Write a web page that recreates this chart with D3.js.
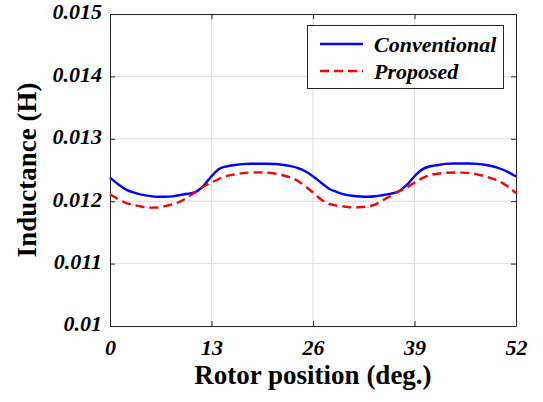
<!DOCTYPE html>
<html><head><meta charset="utf-8"><script src="https://cdn.jsdelivr.net/npm/d3@7"></script></head>
<body style="margin:0">
<svg id="chart" width="543" height="402" font-family='"Liberation Serif", Tinos, Times, "Times New Roman", FreeSerif, serif'></svg>
<script>
// Rotor position samples (deg.)
const position = d3.range(0, 53, 1);

// Inductance of the conventional machine (H)
const conventional = [
  0.012378, 0.012275, 0.012190, 0.012140, 0.012105, 0.012085, 0.012072, 0.012072, 0.012078, 0.012100,
  0.012120, 0.012150, 0.012250, 0.012400, 0.012520, 0.012560, 0.012580, 0.012595, 0.012600, 0.012600,
  0.012600, 0.012595, 0.012585, 0.012565, 0.012535, 0.012480, 0.012400, 0.012300, 0.012205, 0.012150,
  0.012110, 0.012088, 0.012075, 0.012072, 0.012080, 0.012100, 0.012122, 0.012160, 0.012260, 0.012400,
  0.012510, 0.012560, 0.012580, 0.012598, 0.012605, 0.012605, 0.012605, 0.012598, 0.012585, 0.012560,
  0.012520, 0.012465, 0.012395
];

// Inductance of the proposed machine (H)
const proposed = [
  0.012110, 0.012035, 0.011975, 0.011940, 0.011915, 0.011897, 0.011900, 0.011920, 0.011950, 0.011995,
  0.012070, 0.012150, 0.012235, 0.012300, 0.012360, 0.012405, 0.012430, 0.012450, 0.012460, 0.012462,
  0.012458, 0.012445, 0.012420, 0.012385, 0.012330, 0.012240, 0.012140, 0.012030, 0.011960, 0.011930,
  0.011915, 0.011900, 0.011905, 0.011915, 0.011950, 0.012020, 0.012090, 0.012160, 0.012220, 0.012300,
  0.012370, 0.012420, 0.012440, 0.012455, 0.012460, 0.012458, 0.012452, 0.012430, 0.012400, 0.012360,
  0.012310, 0.012230, 0.012130
];

const xTicks = [0, 13, 26, 39, 52];
const yTicks = [0.010, 0.011, 0.012, 0.013, 0.014, 0.015];
const yTickLabels = ["0.01", "0.011", "0.012", "0.013", "0.014", "0.015"];
const seriesNames = ["Conventional", "Proposed"];

const svg = d3.select("#chart");
const margin = { left: 110, right: 27, top: 14, bottom: 76 };
const W = 543, H = 402;
const x = d3.scaleLinear().domain([0, 52]).range([margin.left, W - margin.right]);
const y = d3.scaleLinear().domain([0.010, 0.015]).range([H - margin.bottom, margin.top]);

const FONT = '"Liberation Serif", Tinos, Times, "Times New Roman", FreeSerif, serif';
const frameColor = "#262626";

function serifText(sel, size, italic) {
  sel.attr("font-family", FONT)
    .style("font-family", FONT)
    .style("font-size", size + "px")
    .style("font-weight", "bold")
    .style("font-style", italic ? "italic" : "normal")
    .attr("fill", "#000");
}

// Grid
const grid = svg.append("g");
grid.selectAll(".gx").data(xTicks.slice(1, -1)).join("line")
  .attr("x1", d => x(d)).attr("x2", d => x(d))
  .attr("y1", y.range()[0]).attr("y2", y.range()[1])
  .attr("stroke", "#dcdcdc").attr("stroke-width", 1);
grid.selectAll(".gy").data(yTicks.slice(1, -1)).join("line")
  .attr("x1", x.range()[0]).attr("x2", x.range()[1])
  .attr("y1", d => y(d)).attr("y2", d => y(d))
  .attr("stroke", "#dcdcdc").attr("stroke-width", 1);

// Axes (inward ticks on all four sides)
const axBottom = svg.append("g").attr("transform", `translate(0,${y.range()[0]})`)
  .call(d3.axisBottom(x).tickValues(xTicks).tickSizeInner(-5).tickSizeOuter(0).tickPadding(13));
const axTop = svg.append("g").attr("transform", `translate(0,${y.range()[1]})`)
  .call(d3.axisTop(x).tickValues(xTicks).tickSizeInner(-5).tickSizeOuter(0).tickFormat(""));
const axLeft = svg.append("g").attr("transform", `translate(${x.range()[0]},0)`)
  .call(d3.axisLeft(y).tickValues(yTicks).tickSizeInner(-5).tickSizeOuter(0).tickPadding(8)
    .tickFormat((d, i) => yTickLabels[i]));
const axRight = svg.append("g").attr("transform", `translate(${x.range()[1]},0)`)
  .call(d3.axisRight(y).tickValues(yTicks).tickSizeInner(-5).tickSizeOuter(0).tickFormat(""));

[axBottom, axTop, axLeft, axRight].forEach(g => {
  g.attr("font-family", FONT).attr("font-size", null);
  g.selectAll("path.domain").attr("stroke", frameColor).attr("stroke-width", 1);
  g.selectAll(".tick line").attr("stroke", frameColor);
  g.selectAll("text").call(serifText, 22, true);
});
axLeft.selectAll("text").attr("dy", "0.22em");

// Series
const line = d3.line().curve(d3.curveMonotoneX);
const ptsConv = position.map((p, i) => [x(p), y(conventional[i])]);
const ptsProp = position.map((p, i) => [x(p), y(proposed[i])]);

svg.append("path").attr("d", line(ptsConv))
  .attr("fill", "none").attr("stroke", "#0000ff").attr("stroke-width", 2.4);
svg.append("path").attr("d", line(ptsProp))
  .attr("fill", "none").attr("stroke", "#ff0000").attr("stroke-width", 2.4)
  .attr("stroke-dasharray", "9,5");

// Axis titles
svg.append("text")
  .attr("x", (x.range()[0] + x.range()[1]) / 2).attr("y", 384)
  .attr("text-anchor", "middle")
  .call(serifText, 27, false)
  .text("Rotor position (deg.)");
svg.append("text")
  .attr("transform", `translate(36,${(y.range()[0] + y.range()[1]) / 2}) rotate(-90)`)
  .attr("text-anchor", "middle")
  .call(serifText, 27, false)
  .text("Inductance (H)");

// Legend
const legend = svg.append("g");
legend.append("rect")
  .attr("x", 307.5).attr("y", 25.5).attr("width", 196).attr("height", 63)
  .attr("fill", "#fff").attr("stroke", frameColor).attr("stroke-width", 1);
const legendStyles = [
  { color: "#0000ff", dash: null },
  { color: "#ff0000", dash: "9,5" }
];
seriesNames.forEach((name, i) => {
  const ly = 44 + i * 27;
  legend.append("line")
    .attr("x1", 320).attr("x2", 363).attr("y1", ly).attr("y2", ly)
    .attr("stroke", legendStyles[i].color).attr("stroke-width", 2.4)
    .attr("stroke-dasharray", legendStyles[i].dash);
  legend.append("text")
    .attr("x", 374).attr("y", ly + 8)
    .call(serifText, 22, true)
    .text(name);
});
</script></body></html>
